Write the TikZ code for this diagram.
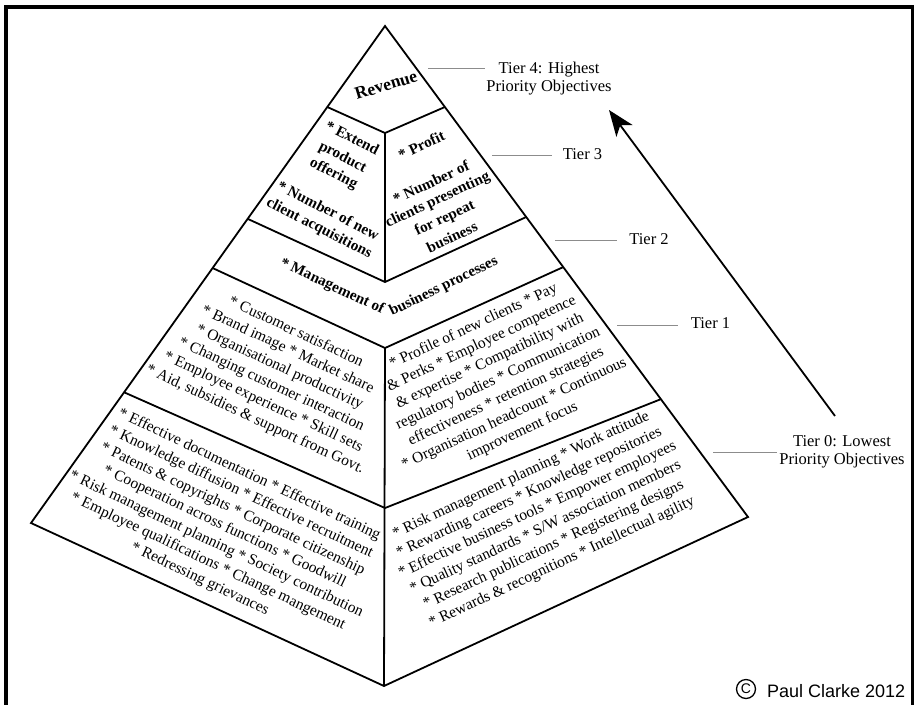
\documentclass[tikz,border=0pt]{standalone}
\usepackage{fontspec}
\setmainfont{Liberation Serif}
\newfontfamily\copyfont{Liberation Sans}
\usetikzlibrary{arrows.meta,calc}

\begin{document}
\begin{tikzpicture}[x=1pt,y=-1pt,
  edge/.style={line width=1.8pt, line join=miter},
  leader/.style={line width=0.8pt, draw=black!45},
  boldtxt/.style={font=\bfseries\fontsize{15.2}{19}\selectfont, align=center, inner sep=0pt},
  leftline/.style={boldtxt, rotate=-27},
  rightline/.style={boldtxt, rotate=25},
  facetxt/.style={font=\fontsize{15.5}{19.3}\selectfont, align=center, inner sep=0pt},
  tiertxt/.style={font=\fontsize{16.5}{17.5}\selectfont, align=center, inner sep=0pt},
]
\useasboundingbox (0,0) rectangle (915,705);

% open frame: top, left and right bars
\fill (4,5) rectangle (914,9);
\fill (4,5) rectangle (7.5,705);
\fill (911,5) rectangle (914,705);

% pyramid corners and tier break points
\coordinate (A)  at (385,26);
\coordinate (L0) at (31,523);   \coordinate (C0) at (384,686);  \coordinate (R0) at (748,517);
\coordinate (L4) at ($(A)!0.163!(L0)$); \coordinate (C4) at (385,133); \coordinate (R4) at ($(A)!0.165!(R0)$);
\coordinate (L3) at ($(A)!0.388!(L0)$); \coordinate (C3) at (385,282); \coordinate (R3) at ($(A)!0.389!(R0)$);
\coordinate (L2) at ($(A)!0.487!(L0)$); \coordinate (C2) at (385,348); \coordinate (R2) at ($(A)!0.491!(R0)$);
\coordinate (L1) at ($(A)!0.737!(L0)$); \coordinate (C1) at (385,508); \coordinate (R1) at ($(A)!0.760!(R0)$);

% outline
\draw[edge] (A) -- (L0) -- (C0) -- (R0) -- cycle;
% tier boundaries
\draw[edge] (L4) -- (C4) -- (R4);
\draw[edge] (L3) -- (C3) -- (R3);
\draw[edge] (L2) -- (C2) -- (R2);
\draw[edge] (L1) -- (C1) -- (R1);
% front ridge
\draw[edge] (C4) -- (C3);
\draw[edge] (C2) -- (C0);

% tier 4
\node[boldtxt, font=\bfseries\fontsize{17.5}{20}\selectfont, rotate=17] (rev) at (386,85) {Revenue};

% tier 3, left face
\node[leftline] (t3l1) at (352.5,137.5) {* Extend};
\node[leftline] (t3l2) at (342.5,157.5) {product};
\node[leftline] (t3l3) at (333.5,174) {offering};
\node[leftline] (t3l4) at (328.5,210) {* Number of new};
\node[leftline] (t3l5) at (319,228.5) {client acquisitions};
% tier 3, right face
\node[rightline] (t3r1) at (421.5,145) {* Profit};
\node[rightline] (t3r2) at (431,182) {* Number of};
\node[rightline] (t3r3) at (438,200.3) {clients presenting};
\node[rightline] (t3r4) at (445,218.7) {for repeat};
\node[rightline] (t3r5) at (452,237) {business};

% tier 2, bent over the front ridge
\node[boldtxt, rotate=-25, anchor=base east] (t2a) at (382,314) {* Management of};
\node[boldtxt, rotate=26, anchor=base west] (t2b) at (392,316) {business processes};

% tier 1
\node[facetxt, rotate=-25] (t1l) at (275.5,376)
  {* Customer satisfaction\\* Brand image * Market share\\* Organisational productivity\\* Changing customer interaction\\* Employee experience * Skill sets\\* Aid, subsidies \& support from Govt.};
\node[facetxt, rotate=25] (t1r) at (498,379)
  {* Profile of new clients * Pay\\\& Perks * Employee competence\\\& expertise * Compatibility with\\regulatory bodies * Communication\\effectiveness * retention strategies\\* Organisation headcount * Continuous\\improvement focus};

% tier 0
\node[facetxt, rotate=-25.3] (t0l) at (224.5,527)
  {* Effective documentation * Effective training\\* Knowledge diffusion * Effective recruitment\\* Patents \& copyrights * Corporate citizenship\\* Cooperation across functions * Goodwill\\* Risk management planning * Society contribution\\* Employee qualifications * Change mangement\\* Redressing grievances};
\node[facetxt, rotate=25] (t0r) at (541.5,519)
  {* Risk management planning * Work attitude\\* Rewarding careers * Knowledge repositories\\* Effective business tools * Empower employees\\* Quality standards * S/W association members\\* Research publications * Registering designs\\* Rewards \& recognitions * Intellectual agility};

% tier labels with leaders
\node[tiertxt] (lab4) at (549,78.5) {Tier 4: Highest\\Priority Objectives};
\node[tiertxt] (lab3) at (582.5,154) {Tier 3};
\node[tiertxt] (lab2) at (649,239) {Tier 2};
\node[tiertxt] (lab1) at (710.5,323) {Tier 1};
\node[tiertxt] (lab0) at (842,452) {Tier 0: Lowest\\Priority Objectives};

\coordinate (m4a) at (428,68);  \coordinate (m4b) at (485,68);
\coordinate (m3a) at (492,155); \coordinate (m3b) at (552,155);
\coordinate (m2a) at (555,240); \coordinate (m2b) at (617,240);
\coordinate (m1a) at (617,325); \coordinate (m1b) at (678,325);
\coordinate (m0a) at (713,452); \coordinate (m0b) at (777,452);
\draw[leader] (m4a) -- (m4b);
\draw[leader] (m3a) -- (m3b);
\draw[leader] (m2a) -- (m2b);
\draw[leader] (m1a) -- (m1b);
\draw[leader] (m0a) -- (m0b);

% priority arrow
\coordinate (arrTail) at (835,416);
\coordinate (arrHead) at (609,110);
\draw[line width=1.8pt, -{Stealth[length=26pt,width=20pt,inset=7pt]}] (arrTail) -- (arrHead);

% copyright line
\node[circle, draw, line width=1.3pt, minimum size=19pt, inner sep=0pt, font=\copyfont\fontsize{14}{14}\selectfont] (cc) at (746,689) {C};
\node[font=\copyfont\fontsize{18}{20}\selectfont, anchor=base west, inner sep=0pt] (cp) at (767,697) {Paul Clarke 2012};
\end{tikzpicture}
\end{document}
